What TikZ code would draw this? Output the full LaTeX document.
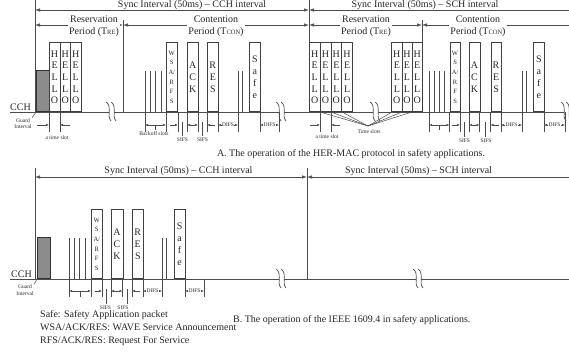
\documentclass[tikz,border=0pt]{standalone}
\usepackage{fontspec}
\setmainfont{Liberation Serif}
\usetikzlibrary{arrows.meta, positioning}

\begin{document}
\begin{tikzpicture}[
    x=1pt, y=-1pt,
    every node/.style={text=black!85},
    chan/.style={draw=black!70, line width=0.8pt},
    bar/.style={draw=black!70, line width=0.8pt},
    slot/.style={draw=black!70, line width=0.6pt},
    tick/.style={draw=black!70, line width=0.5pt},
    span/.style={draw=black!70, line width=0.7pt, {Latex[length=5pt,width=3.5pt]}-{Latex[length=5pt,width=3.5pt]}},
    lspan/.style={draw=black!70, line width=0.7pt, {Latex[length=5pt,width=3.5pt]}-},
    dim/.style={draw=black!70, line width=0.4pt, {Latex[length=3pt,width=2.2pt]}-{Latex[length=3pt,width=2.2pt]}},
    into/.style={draw=black!70, line width=0.4pt, -{Latex[length=3pt,width=2.2pt]}},
    pkt/.style={draw=black!75, line width=0.6pt, anchor=south west, inner sep=0pt, minimum height=69pt, align=center},
    hello/.style={pkt, minimum width=10.6pt, font=\fontsize{10}{11.7}\selectfont},
    big/.style={pkt, minimum width=11pt, font=\fontsize{10}{12.2}\selectfont},
    wsa/.style={pkt, minimum width=11pt, font=\fontsize{6.5}{9.6}\selectfont},
    guard/.style={draw=black!80, fill=black!45, line width=0.6pt, anchor=south west, inner sep=0pt, minimum width=13pt, minimum height=41pt},
    period/.style={fill=white, inner sep=1pt, align=center, font=\fontsize{10}{11.7}\selectfont},
    label/.style={inner sep=0pt, anchor=base, font=\fontsize{10}{12}\selectfont},
    tiny/.style={inner sep=0.5pt, align=center, font=\fontsize{5.5}{6.5}\selectfont},
    brk/.pic={
        \fill[white] (-4,-10) .. controls (3,-5) and (-4,3) .. (1,9) -- (6,9) .. controls (1,3) and (8,-5) .. (1,-10) -- cycle;
        \draw[black!70, line width=0.7pt] (-4,-10) .. controls (3,-5) and (-4,3) .. (1,9);
        \draw[black!70, line width=0.7pt] (1,-10) .. controls (8,-5) and (1,3) .. (6,9);
    }
]
\useasboundingbox (0,0) rectangle (569,356);

% ---------------- A. HER-MAC ----------------
% Channel
\draw[chan] (10,112) -- (569,112);
\node[label, anchor=base west] (cchA) at (10,110.5) {CCH};

% Interval bars
\draw[bar] (35,0) -- (35,112);
\draw[bar] (309,0) -- (309,112);
\draw[bar] (123,20) -- (123,112);
\draw[bar] (422,20) -- (422,112);
\draw[span] (35,10) -- (309,10);
\draw[lspan] (309,10) -- (569,10);
\node[label] (syncA1) at (192,7.5) {Sync Interval (50ms) – CCH interval};
\node[label] (syncA2) at (425,7.5) {Sync Interval (50ms) – SCH interval};

% Periods
\draw[span] (35,25) -- (123,25);
\draw[span] (123,25) -- (309,25);
\draw[span] (309,25) -- (422,25);
\draw[lspan] (422,25) -- (569,25);
\node[period] (resA1) at (94,26.5) {Reservation\\Period (T{\fontsize{6.5}{7}\selectfont RE})};
\node[period] (conA1) at (216,26.5) {Contention\\Period (T{\fontsize{6.5}{7}\selectfont CON})};
\node[period] (resA2) at (366,26.5) {Reservation\\Period (T{\fontsize{6.5}{7}\selectfont RE})};
\node[period] (conA2) at (478,26.5) {Contention\\Period (T{\fontsize{6.5}{7}\selectfont CON})};

% Packets, CCH interval
\node[guard] (gA) at (36,112) {};
\foreach \x [count=\i] in {49,59.6,70.2}
    \node[hello] (hA\i) at (\x,112) {H\\E\\L\\L\\O};
\foreach \x in {145,150,155,161}
    \draw[slot] (\x,112) -- (\x,71);
\node[wsa] (wsaA1) at (166,112) {W\\S\\A/\\R\\F\\S};
\node[big] (ackA1) at (187,112) {A\\C\\K};
\node[big] (resA1p) at (207,112) {R\\E\\S};
\foreach \x in {238,242}
    \draw[slot] (\x,112) -- (\x,71);
\node[big] (safeA1) at (249,112) {S\\a\\f\\e};

% Packets, SCH interval
\foreach \x [count=\i] in {309,319.8,330.6,341.4}
    \node[hello, minimum width=10.8pt] (hB\i) at (\x,112) {H\\E\\L\\L\\O};
\foreach \x [count=\i] in {391.4,401.6,411.8}
    \node[hello, minimum width=10.2pt] (hC\i) at (\x,112) {H\\E\\L\\L\\O};
\foreach \x in {429,434,439,444}
    \draw[slot] (\x,112) -- (\x,71);
\node[wsa, minimum width=10.5pt] (wsaA2) at (449.5,112) {W\\S\\A/\\R\\F\\S};
\node[big, minimum width=10.5pt] (ackA2) at (469,112) {A\\C\\K};
\node[big, minimum width=10.5pt] (resA2p) at (490.5,112) {R\\E\\S};
\foreach \x in {522,526}
    \draw[slot] (\x,112) -- (\x,71);
\node[big] (safeA2) at (533,112) {S\\a\\f\\e};

% Breaks
\foreach \x in {110,280,374,565}
    \pic at (\x,112) {brk};

% Timing marks
\foreach \x in {49,60,145,166,178,187,198,207,218,238,260,279,
                320,331,429,449.5,460,469,479.5,490.5,501,522,544,565}
    \draw[tick] (\x,112) -- (\x,132);
\node[tiny] (guardA) at (23,123.5) {Guard\\Interval};
\draw[tick] (guardA.north east) -- (gA.south west);
\draw[into] (37,125) -- (49,125);
\draw[into] (70,125) -- (60,125);
\node[tiny] (slotA1) at (57,138) {a time slot};
\draw[dim] (145,125) -- (166,125);
\draw[tick] (155.5,125) -- (155.5,130);
\node[tiny] (bkA1) at (154,134) {Backoff slots};
\draw[into] (170,125) -- (178,125);
\draw[dim] (187,125) -- (198,125);
\draw[into] (215,125) -- (207,125);
\draw[tick] (182.5,122) -- (182.5,136);
\draw[tick] (202.5,122) -- (202.5,136);
\node[tiny] (sifsA1) at (182.5,140) {SIFS};
\node[tiny] (sifsA2) at (202.5,140) {SIFS};
\draw[dim] (218,125) -- node[tiny, fill=white] (difsA1) {DIFS} (238,125);
\draw[dim] (260,125) -- node[tiny, fill=white] (difsA2) {DIFS} (279,125);

\draw[into] (310,125) -- (320,125);
\draw[into] (340,125) -- (331,125);
\node[tiny] (slotA2) at (327,137) {a time slot};
\coordinate (fan) at (368,126);
\foreach \x in {320,331,342,392,402,412}
    \draw[tick] (fan) -- (\x,112);
\node[tiny] (tsA) at (369,132) {Time slots};
\draw[dim] (429,125) -- (449.5,125);
\draw[tick] (439,125) -- (439,130);
\draw[into] (452,125) -- (460,125);
\draw[dim] (469,125) -- (479.5,125);
\draw[into] (499,125) -- (490.5,125);
\draw[tick] (464.5,122) -- (464.5,137);
\draw[tick] (485,122) -- (485,137);
\node[tiny] (sifsA3) at (464.5,141) {SIFS};
\node[tiny] (sifsA4) at (486,141) {SIFS};
\draw[dim] (501,125) -- node[tiny, fill=white] (difsA3) {DIFS} (522,125);
\draw[dim] (544,125) -- node[tiny, fill=white] (difsA4) {DIFS} (565,125);

\node[label] (capA) at (351,156) {A. The operation of the HER-MAC protocol in safety applications.};

% ---------------- B. IEEE 1609.4 ----------------
\draw[chan] (10,279) -- (569,279);
\node[label, anchor=base west] (cchB) at (11,277.5) {CCH};

\draw[bar] (35,168) -- (35,279);
\draw[bar] (307,168) -- (307,279);
\draw[span] (35,177) -- (307,177);
\draw[lspan] (307,177) -- (569,177);
\node[label] (syncB1) at (178.5,173.5) {Sync Interval (50ms) – CCH interval};
\node[label] (syncB2) at (418.5,173.5) {Sync Interval (50ms) – SCH interval};

\node[guard] (gB) at (37,279) {};
\foreach \x in {69,74,79,85}
    \draw[slot] (\x,279) -- (\x,238);
\node[wsa] (wsaB) at (91,279) {W\\S\\A/\\R\\F\\S};
\node[big, minimum width=11.5pt] (ackB) at (111,279) {A\\C\\K};
\node[big] (resB) at (132,279) {R\\E\\S};
\foreach \x in {162,166}
    \draw[slot] (\x,279) -- (\x,238);
\node[big, minimum width=11.5pt] (safeB) at (173.5,279) {S\\a\\f\\e};

\foreach \x in {280,417}
    \pic at (\x,279) {brk};

\foreach \x in {69,91,102,111,122.5,132,143,162,185,204}
    \draw[tick] (\x,279) -- (\x,297);
\node[tiny] (guardB) at (25,290) {Guard\\Interval};
\draw[tick] (guardB.north east) -- (gB.south west);
\draw[dim] (69,291) -- (91,291);
\draw[tick] (80,291) -- (80,297);
\draw[into] (95,291) -- (102,291);
\draw[dim] (111,291) -- (122.5,291);
\draw[into] (140,291) -- (132,291);
\draw[tick] (106.5,289) -- (106.5,304);
\draw[tick] (127.5,289) -- (127.5,304);
\node[tiny] (sifsB1) at (105.5,308) {SIFS};
\node[tiny] (sifsB2) at (123,308) {SIFS};
\draw[dim] (143,291) -- node[tiny, fill=white] (difsB1) {DIFS} (162,291);
\draw[dim] (185,291) -- node[tiny, fill=white] (difsB2) {DIFS} (204,291);

\node[label, anchor=base west] (capB) at (233,322) {B. The operation of the IEEE 1609.4 in safety applications.};

% Legend
\node[label, anchor=base west] (leg1) at (40,317.5) {Safe: Safety Application packet};
\node[label, anchor=base west] (leg2) at (40,330.5) {WSA/ACK/RES: WAVE Service Announcement};
\node[label, anchor=base west] (leg3) at (40,343) {RFS/ACK/RES: Request For Service};

\end{tikzpicture}
\end{document}
